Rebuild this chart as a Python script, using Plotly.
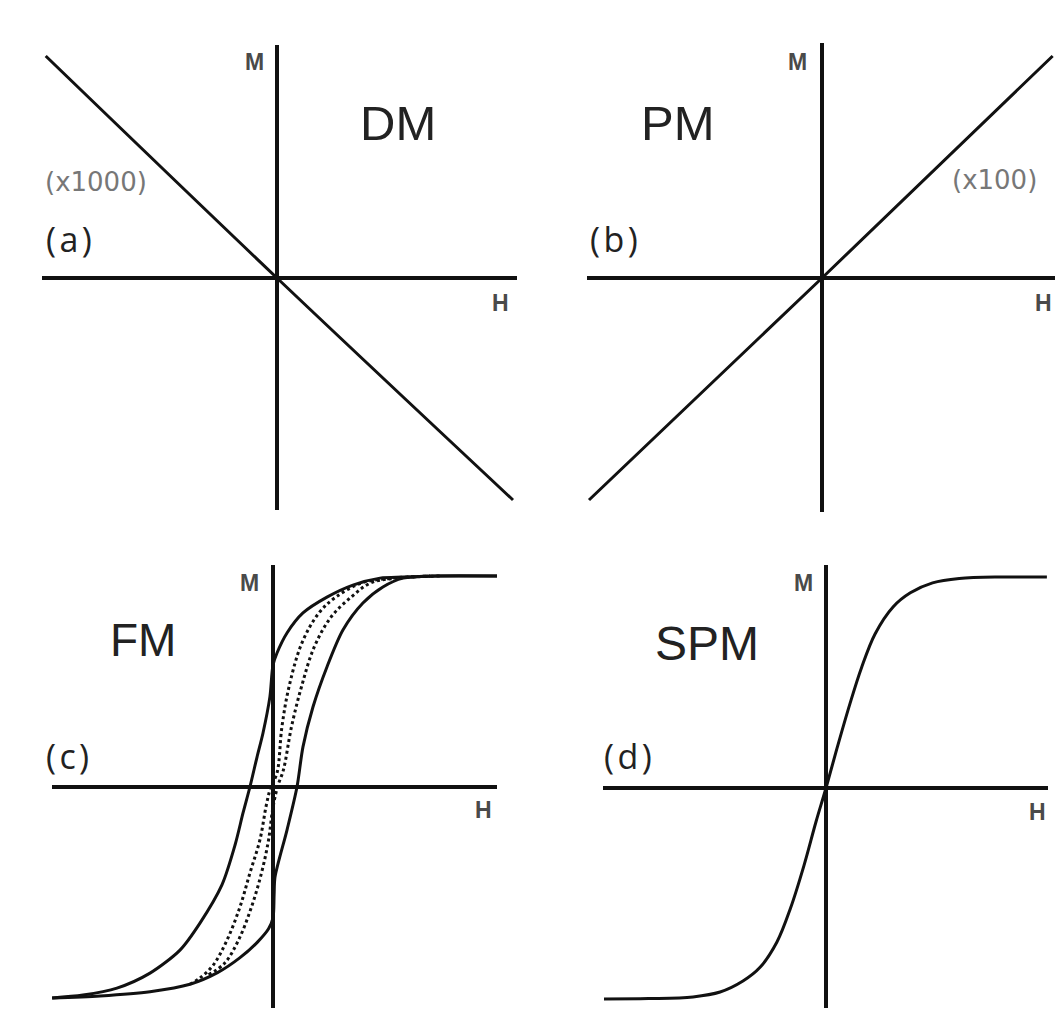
import plotly.graph_objects as go

# ---- data (H, M in reduced units; M = 1 at saturation) ----
# (a) diamagnet: straight line of negative slope
dm_h = [-0.98, 0.0, 1.0]
dm_m = [1.0, 0.0, -1.0]

# (b) paramagnet: straight line of positive slope
pm_h = [-1.0, 0.0, 0.99]
pm_m = [-1.0, 0.0, 1.0]

# (c) ferromagnet: outer hysteresis loop
fm_down_h = [1.01, 0.739, 0.586, 0.482, 0.360, 0.243, 0.135, 0.063, 0.018, 0.0,
             -0.014, -0.045, -0.072, -0.104, -0.135, -0.171, -0.230, -0.329,
             -0.419, -0.554, -0.703, -0.856, -0.995]
fm_down_m = [1.0, 1.0, 0.995, 0.99, 0.957, 0.90, 0.825, 0.73, 0.635, 0.578,
             0.427, 0.256, 0.142, 0.0, -0.123, -0.275, -0.464, -0.645,
             -0.773, -0.882, -0.953, -0.986, -1.0]
fm_up_h = [-0.995, -0.779, -0.554, -0.374, -0.250, -0.150, -0.070, -0.020, 0.0,
           0.005, 0.009, 0.063, 0.108, 0.135, 0.180, 0.243, 0.315, 0.405,
           0.495, 0.586, 0.739, 1.01]
fm_up_m = [-1.0, -0.99, -0.97, -0.935, -0.88, -0.81, -0.735, -0.672, -0.62,
           -0.512, -0.427, -0.204, 0.0, 0.19, 0.379, 0.569, 0.744, 0.872,
           0.948, 0.99, 1.0, 1.0]

# (c) ferromagnet: inner minor loop (dotted)
fm_in1_h = [-0.374, -0.329, -0.270, -0.207, -0.149, -0.104, -0.059, -0.030,
            -0.010, 0.018, 0.040, 0.072, 0.130, 0.207, 0.283, 0.400, 0.541, 0.707]
fm_in1_m = [-0.935, -0.905, -0.845, -0.725, -0.569, -0.408, -0.251, -0.085,
            0.0, 0.066, 0.284, 0.474, 0.682, 0.825, 0.90, 0.967, 0.99, 1.0]
fm_in2_h = [-0.290, -0.218, -0.155, -0.097, -0.052, -0.020, -0.002, 0.020,
            0.047, 0.083, 0.128, 0.186, 0.262, 0.352, 0.440, 0.559, 0.752]
fm_in2_m = [-0.89, -0.835, -0.725, -0.569, -0.408, -0.251, -0.109, 0.0,
            0.081, 0.284, 0.474, 0.664, 0.806, 0.90, 0.967, 0.99, 1.0]

# (d) superparamagnet: anhysteretic S-curve
spm_h = [-1.0, -0.80, -0.599, -0.477, -0.374, -0.297, -0.221, -0.160, -0.100,
         -0.045, 0.0, 0.05, 0.108, 0.160, 0.221, 0.302, 0.380, 0.480, 0.600,
         0.800, 0.995]
spm_m = [-1.0, -0.998, -0.99, -0.967, -0.915, -0.85, -0.73, -0.57, -0.37,
         -0.16, 0.0, 0.19, 0.40, 0.57, 0.73, 0.858, 0.925, 0.972, 0.993,
         1.0, 1.0]

W, H = 1055, 1021
INK = "#111111"

# panel frames: pixel box of the axis cross (x0, x1, y0, y1), origin, scale
panels = {
    "a": dict(box=(42, 517, 45, 510), org=(277, 278), scale=(236, 222)),
    "b": dict(box=(587, 1055, 43, 512), org=(822, 278), scale=(233, 222)),
    "c": dict(box=(52, 497, 565, 1008), org=(273, 787), scale=(222, 211)),
    "d": dict(box=(603, 1048, 565, 1008), org=(826, 788), scale=(222, 211)),
}
axis_ids = {"a": ("x", "y"), "b": ("x2", "y2"), "c": ("x3", "y3"), "d": ("x4", "y4")}

fig = go.Figure()


def add_curve(panel, h, m, dash="solid", width=3, smoothing=1.0):
    xa, ya = axis_ids[panel]
    fig.add_trace(go.Scatter(
        x=h, y=m, mode="lines", xaxis=xa, yaxis=ya,
        line=dict(color=INK, width=width, dash=dash, shape="spline",
                  smoothing=smoothing),
        hoverinfo="skip", showlegend=False,
    ))


add_curve("a", dm_h, dm_m)
add_curve("b", pm_h, pm_m)
add_curve("c", fm_in1_h, fm_in1_m, dash="3px,3px", width=3)
add_curve("c", fm_in2_h, fm_in2_m, dash="3px,3px", width=3)
add_curve("c", fm_down_h, fm_down_m, smoothing=0.8)
add_curve("c", fm_up_h, fm_up_m, smoothing=0.8)
add_curve("d", spm_h, spm_m)

layout_axes = {}
for key, p in panels.items():
    x0, x1, y0, y1 = p["box"]
    ox, oy = p["org"]
    sx, sy = p["scale"]
    xa, ya = axis_ids[key]
    xname = "xaxis" if xa == "x" else "xaxis" + xa[1:]
    yname = "yaxis" if ya == "y" else "yaxis" + ya[1:]
    common = dict(showgrid=False, showticklabels=False, ticks="", showline=False,
                  zeroline=True, zerolinecolor=INK, zerolinewidth=3.5, fixedrange=True)
    layout_axes[xname] = dict(domain=[x0 / W, x1 / W],
                              range=[(x0 - ox) / sx, (x1 - ox) / sx],
                              anchor=ya, **common)
    layout_axes[yname] = dict(domain=[1 - y1 / H, 1 - y0 / H],
                              range=[(oy - y1) / sy, (oy - y0) / sy],
                              anchor=xa, **common)


def label(text, px, py, size, color="#222222", family="Liberation Sans, Arial, sans-serif"):
    return dict(text=text, x=px / W, y=1 - py / H, xref="paper", yref="paper",
                xanchor="center", yanchor="middle", showarrow=False,
                font=dict(size=size, color=color, family=family))


LETTER_FONT = "Open Sans, sans-serif"
AXIS_NAME = "#4a4a4a"
annotations = [
    # material names
    label("DM", 398, 123, 49),
    label("PM", 678, 123, 49),
    label("FM", 143, 640, 46),
    label("SPM", 707, 643, 48),
    # panel letters
    label("(\u200aa\u200a)", 69, 239, 34, family=LETTER_FONT),
    label("(\u200ab\u200a)", 614, 239, 34, family=LETTER_FONT),
    label("(\u200ac\u200a)", 67, 756, 34, family=LETTER_FONT),
    label("(\u200ad\u200a)", 628, 756, 34, family=LETTER_FONT),
    # scale factors
    label("(x1000)", 96, 182, 26, color="#777777", family="DejaVu Sans, sans-serif"),
    label("(x100)", 994, 180, 26, color="#777777", family="DejaVu Sans, sans-serif"),
    # axis names
    label("<b>M</b>", 254, 62, 23, color=AXIS_NAME),
    label("<b>M</b>", 797, 62, 23, color=AXIS_NAME),
    label("<b>M</b>", 249, 583, 23, color=AXIS_NAME),
    label("<b>M</b>", 803, 583, 23, color=AXIS_NAME),
    label("<b>H</b>", 500, 303, 23, color=AXIS_NAME),
    label("<b>H</b>", 1043, 303, 23, color=AXIS_NAME),
    label("<b>H</b>", 483, 810, 23, color=AXIS_NAME),
    label("<b>H</b>", 1037, 812, 23, color=AXIS_NAME),
]

fig.update_layout(
    width=W, height=H,
    margin=dict(l=0, r=0, t=0, b=0),
    paper_bgcolor="white", plot_bgcolor="white",
    showlegend=False, hovermode=False,
    annotations=annotations,
    **layout_axes,
)

fig.write_html("out.html", config={"displayModeBar": False})
